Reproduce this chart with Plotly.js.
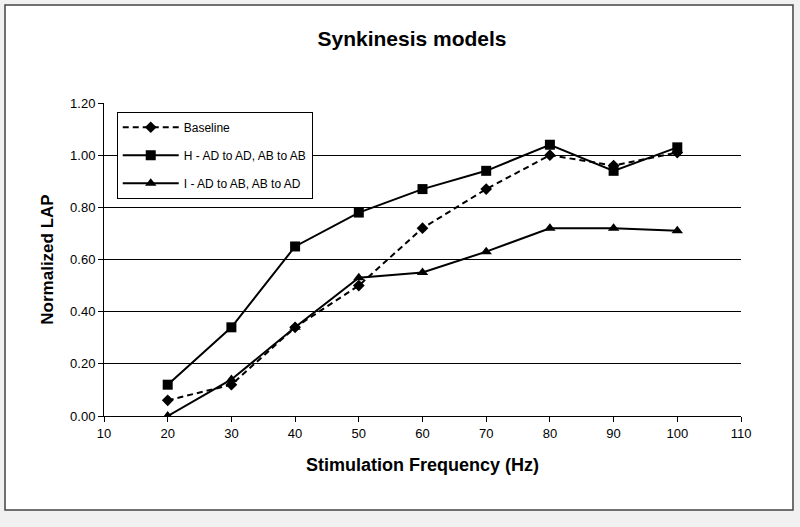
<!DOCTYPE html>
<html>
<head>
<meta charset="utf-8">
<script src="https://cdn.plot.ly/plotly-3.0.1.min.js"></script>
<style>html,body{margin:0;padding:0;background:#f1f1f1;}#chart{width:800px;height:527px;}</style>
</head>
<body>
<div id="chart"></div>
<script>
const freq = [20, 30, 40, 50, 60, 70, 80, 90, 100];
const baseline = [0.06, 0.12, 0.34, 0.50, 0.72, 0.87, 1.00, 0.96, 1.01];
const modelH = [0.12, 0.34, 0.65, 0.78, 0.87, 0.94, 1.04, 0.94, 1.03];
const modelI = [0.00, 0.14, 0.34, 0.53, 0.55, 0.63, 0.72, 0.72, 0.71];
const names = ['Baseline', 'H - AD to AD, AB to AB', 'I - AD to AB, AB to AD'];
const yTicks = [0, 0.2, 0.4, 0.6, 0.8, 1.0, 1.2];
const yTickText = ['0.00', '0.20', '0.40', '0.60', '0.80', '1.00', '1.20'];
const xTicks = [10, 20, 30, 40, 50, 60, 70, 80, 90, 100, 110];

const font = 'Liberation Sans, Arial, sans-serif';

const traces = [
  {x: freq, y: baseline, name: names[0], legendgroup: 'a', mode: 'lines+markers',
   line: {color: '#000', width: 2, dash: '6px,4px'}, marker: {symbol: 'diamond', size: 9, color: '#000'}},
  {x: freq, y: modelH, name: names[1], legendgroup: 'b', mode: 'lines+markers',
   line: {color: '#000', width: 2}, marker: {symbol: 'square', size: 10, color: '#000'}},
  {x: freq, y: modelI, name: names[2], legendgroup: 'c', mode: 'lines+markers',
   line: {color: '#000', width: 2}, marker: {symbol: 'triangle-up', size: 10, color: '#000'}}
];

const layout = {
  width: 800, height: 527,
  paper_bgcolor: '#f1f1f1', plot_bgcolor: '#ffffff',
  margin: {l: 104, r: 59, t: 103, b: 111},
  font: {family: font, color: '#000', size: 13},
  title: {text: '<b>Synkinesis models</b>', font: {family: font, size: 21, color: '#000'},
          x: 0.515, xanchor: 'center', y: 0.926, yanchor: 'middle', xref: 'container', yref: 'container'},
  xaxis: {range: [10, 110], tickvals: xTicks, ticks: 'outside', ticklen: 5, tickcolor: '#000',
          showline: true, linecolor: '#000', linewidth: 1, showgrid: false, zeroline: false,
          tickfont: {size: 13}, automargin: false,
          title: {text: '<b>Stimulation Frequency (Hz)</b>', font: {size: 18}, standoff: 18}},
  yaxis: {range: [0, 1.2], tickvals: yTicks, ticktext: yTickText, ticks: 'outside', ticklen: 5, tickcolor: '#000',
          showline: true, linecolor: '#000', linewidth: 1, showgrid: true, gridcolor: '#000', gridwidth: 1,
          zeroline: false, tickfont: {size: 13}, automargin: false,
          title: {text: '<b>Normalized LAP</b>', font: {size: 17}, standoff: 12}},
  showlegend: true,
  legend: {x: 0.02, y: 0.972, xanchor: 'left', yanchor: 'top', bgcolor: '#ffffff', bordercolor: '#000', borderwidth: 1,
           font: {size: 12}, traceorder: 'grouped', tracegroupgap: 9, itemwidth: 56},
  shapes: [
    {type: 'rect', xref: 'paper', yref: 'paper', x0: -0.1554, x1: 1.0816, y0: -0.3003, y1: 1.313,
     line: {color: '#444', width: 1.5}, fillcolor: '#ffffff', layer: 'below'}
  ]
};

Plotly.newPlot('chart', traces, layout, {displayModeBar: false, staticPlot: true});
</script>
</body>
</html>
